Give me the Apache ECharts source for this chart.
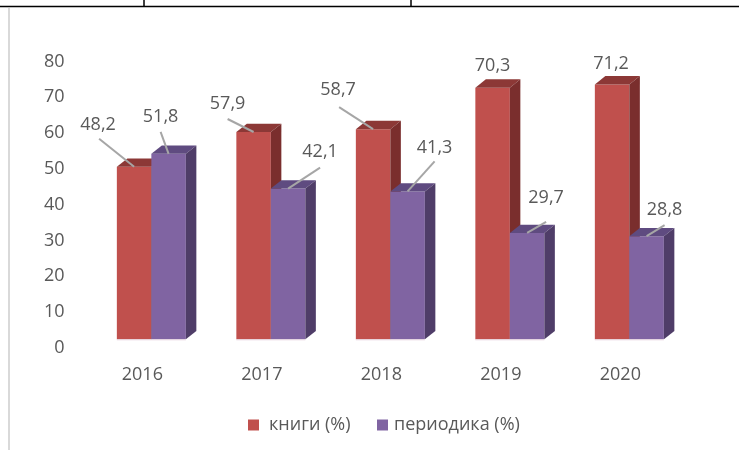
<!DOCTYPE html>
<html>
<head>
<meta charset="utf-8">
<script src="https://cdn.jsdelivr.net/npm/echarts@6/dist/echarts.min.js"></script>
<style>
html,body{margin:0;padding:0;background:#fff;}
#chart{width:739px;height:450px;}
</style>
</head>
<body>
<div id="chart"></div>
<script>
// ---- data ----
const categories = ['2016', '2017', '2018', '2019', '2020'];
const books = [48.2, 57.9, 58.7, 70.3, 71.2];
const periodicals = [51.8, 42.1, 41.3, 29.7, 28.8];
const seriesNames = ['книги (%)', 'периодика (%)'];
const yMin = 0, yMax = 80, yStep = 10;

// ---- layout (label placement relative to bar top centre, px) ----
const booksLabelOff = [[-36, -42], [-26, -28], [-35, -39], [0, -22], [-1, -21]];
const booksLineStart = [[-35, -28], [-26, -13], [-34, -22], null, null];
const perLabelOff = [[-8, -37], [32, -37], [27, -44], [19, -35], [18, -26]];
const perLineStart = [[-8, -22], [32, -21], [27, -30], [19, -11], [18, -11]];

const FONT = 'Open Sans';
const TXT = '#595959';
const BAR_FRAC = 34.5 / 119.5;
const DX = 10.5, DY = -8.3;
const G = { left: 91.6, right: 49.9, top: 52.9, bottom: 110.7 };
const LABEL_SHIFT = 8.5;

function fmt(v) { return v.toFixed(1).replace('.', ','); }

function makeRender(side, cols, labelOff, lineStart) {
  return function (params, api) {
    const i = api.value(0), v = api.value(1);
    const top = api.coord([i, v]);
    const base = api.coord([i, 0]);
    const band = api.size([1, 0])[0];
    const w = band * BAR_FRAC;
    const x0 = side < 0 ? top[0] - w : top[0];
    const x1 = x0 + w;
    const yT = top[1], yB = base[1];
    const cx = x0 + w / 2;
    const children = [
      { type: 'rect', shape: { x: x0, y: yT, width: w, height: yB - yT }, style: { fill: cols[0] } },
      { type: 'polygon', shape: { points: [[x0, yT], [x1, yT], [x1 + DX, yT + DY], [x0 + DX, yT + DY]] }, style: { fill: cols[1] } },
      { type: 'polygon', shape: { points: [[x1, yT], [x1 + DX, yT + DY], [x1 + DX, yB + DY], [x1, yB]] }, style: { fill: cols[2] } },
      { type: 'line', shape: { x1: x0, y1: yB + 0.5, x2: x1, y2: yB + 0.5 }, style: { stroke: '#e6d3df', lineWidth: 1 } }
    ];
    const off = labelOff[params.dataIndex];
    const ls = lineStart[params.dataIndex];
    if (ls) {
      children.push({ type: 'line', z2: 50, shape: { x1: cx + ls[0], y1: yT + ls[1], x2: cx, y2: yT }, style: { stroke: '#a6a6a6', lineWidth: 2 } });
    }
    children.push({
      type: 'text', z2: 60,
      style: { x: cx + off[0], y: yT + off[1], text: fmt(v), fill: TXT, font: '18px "' + FONT + '"', align: 'center', verticalAlign: 'middle' }
    });
    return { type: 'group', children: children };
  };
}

const chart = echarts.init(document.getElementById('chart'), null, { renderer: 'canvas' });
chart.setOption({
  backgroundColor: '#ffffff',
  animation: false,
  textStyle: { fontFamily: FONT },
  grid: [
    { left: G.left, right: G.right, top: G.top, bottom: G.bottom, containLabel: false },
    // same value scale, shifted down: carries the value-axis tick labels (as drawn on the 3D back wall)
    { left: G.left, right: G.right, top: G.top + LABEL_SHIFT, bottom: G.bottom - LABEL_SHIFT, containLabel: false }
  ],
  xAxis: [
    {
      type: 'category', data: categories, gridIndex: 0,
      axisLine: { show: false }, axisTick: { show: false },
      axisLabel: { color: TXT, fontSize: 18, fontFamily: FONT, margin: 27, padding: [0, 18, 0, 0] }
    },
    { type: 'category', data: categories, gridIndex: 1, show: false }
  ],
  yAxis: [
    {
      type: 'value', min: yMin, max: yMax, interval: yStep, gridIndex: 0,
      axisLine: { show: false }, axisTick: { show: false }, splitLine: { show: false },
      axisLabel: { show: false }
    },
    {
      type: 'value', min: yMin, max: yMax, interval: yStep, gridIndex: 1,
      axisLine: { show: false }, axisTick: { show: false }, splitLine: { show: false },
      axisLabel: { color: TXT, fontSize: 18, fontFamily: FONT, margin: 27 }
    }
  ],
  legend: [
    { data: [seriesNames[0]], left: 248, top: 416, padding: 0, itemWidth: 11, itemHeight: 11, icon: 'rect',
      textStyle: { color: TXT, fontSize: 18, fontFamily: FONT, padding: [0, 0, 0, 5] } },
    { data: [seriesNames[1]], left: 377, top: 416, padding: 0, itemWidth: 11, itemHeight: 11, icon: 'rect',
      textStyle: { color: TXT, fontSize: 18, fontFamily: FONT, padding: [0, 0, 0, 1] } }
  ],
  graphic: [
    { type: 'line', shape: { x1: 0, y1: 6.5, x2: 739, y2: 6.5 }, style: { stroke: '#000', lineWidth: 1.5 } },
    { type: 'line', shape: { x1: 144, y1: 0, x2: 144, y2: 6 }, style: { stroke: '#000', lineWidth: 1.5 } },
    { type: 'line', shape: { x1: 411, y1: 0, x2: 411, y2: 6 }, style: { stroke: '#000', lineWidth: 1.5 } },
    { type: 'line', shape: { x1: 9, y1: 8, x2: 9, y2: 450 }, style: { stroke: '#d9d9d9', lineWidth: 2 } }
  ],
  series: [
    {
      name: seriesNames[0], type: 'custom', color: '#C0504D', xAxisIndex: 0, yAxisIndex: 0,
      itemStyle: { color: '#C0504D' },
      renderItem: makeRender(-1, ['#C0504D', '#8C3836', '#7A2E2D'], booksLabelOff, booksLineStart),
      encode: { x: 0, y: 1 },
      data: books.map((v, i) => [i, v])
    },
    {
      name: seriesNames[1], type: 'custom', color: '#8064A2', xAxisIndex: 0, yAxisIndex: 0,
      itemStyle: { color: '#8064A2' },
      renderItem: makeRender(1, ['#8064A2', '#5F4B80', '#4F3D68'], perLabelOff, perLineStart),
      encode: { x: 0, y: 1 },
      data: periodicals.map((v, i) => [i, v])
    }
  ]
});
</script>
</body>
</html>
